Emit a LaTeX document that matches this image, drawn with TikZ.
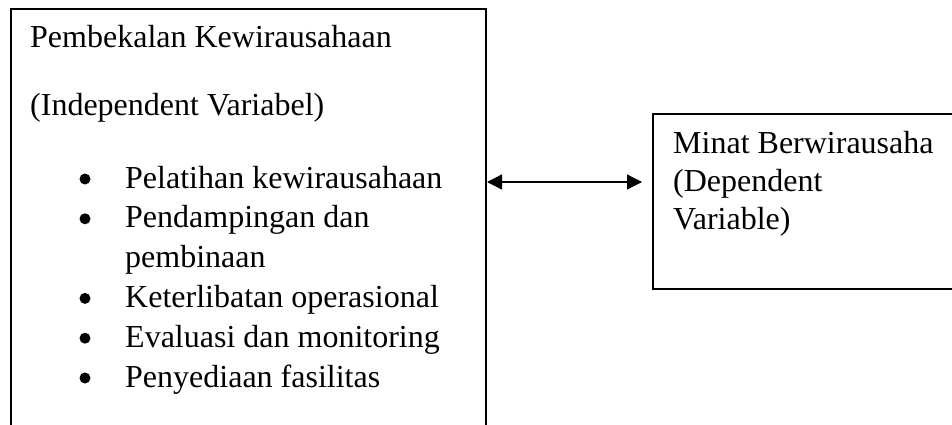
\documentclass[tikz,border=0pt]{standalone}
\usepackage{fontspec}
\setmainfont{Liberation Serif}
\usetikzlibrary{arrows.meta}
\begin{document}
\begin{tikzpicture}[x=1pt,y=-1pt,
  txt/.style={anchor=base west, inner sep=0pt, font=\fontsize{32}{39}\selectfont},
  bul/.style={circle, fill=black, inner sep=0pt, minimum size=11pt},
  boxline/.style={draw, line width=2pt, inner sep=0pt},
  conn/.style={>={Triangle[length=15pt,width=15pt]}, <->, line width=1.3pt}]
\useasboundingbox (0,0) rectangle (952,425);
\clip (0,0) rectangle (952,425);
\node[boxline, anchor=north west, minimum width=475pt, minimum height=450pt] (L) at (10,8) {};
\node[boxline, anchor=north west, minimum width=330pt, minimum height=175pt] (R) at (652,113) {};
\node[txt] (t1) at (30,48) {Pembekalan Kewirausahaan};
\node[txt] (t2) at (30,115) {(Independent Variabel)};
\foreach \i/\t in {0/Pelatihan kewirausahaan,1/Pendampingan dan,2/pembinaan,3/Keterlibatan operasional,4/Evaluasi dan monitoring,5/Penyediaan fasilitas}{
  \node[txt] (item\i) at (125,188+\i*39.8) {\t};
}
\foreach \i in {0,1,3,4,5}{
  \node[bul] (b\i) at (85,188+\i*39.8-9) {};
}
\node[txt] (r1) at (673,153) {Minat Berwirausaha};
\node[txt] (r2) at (673,191) {(Dependent};
\node[txt] (r3) at (673,229) {Variable)};
\coordinate (ay) at (0,182);
\coordinate (aend) at ([xshift=-10pt]R.west |- ay);
\draw[conn] (L.east |- ay) -- (aend);
\end{tikzpicture}
\end{document}
